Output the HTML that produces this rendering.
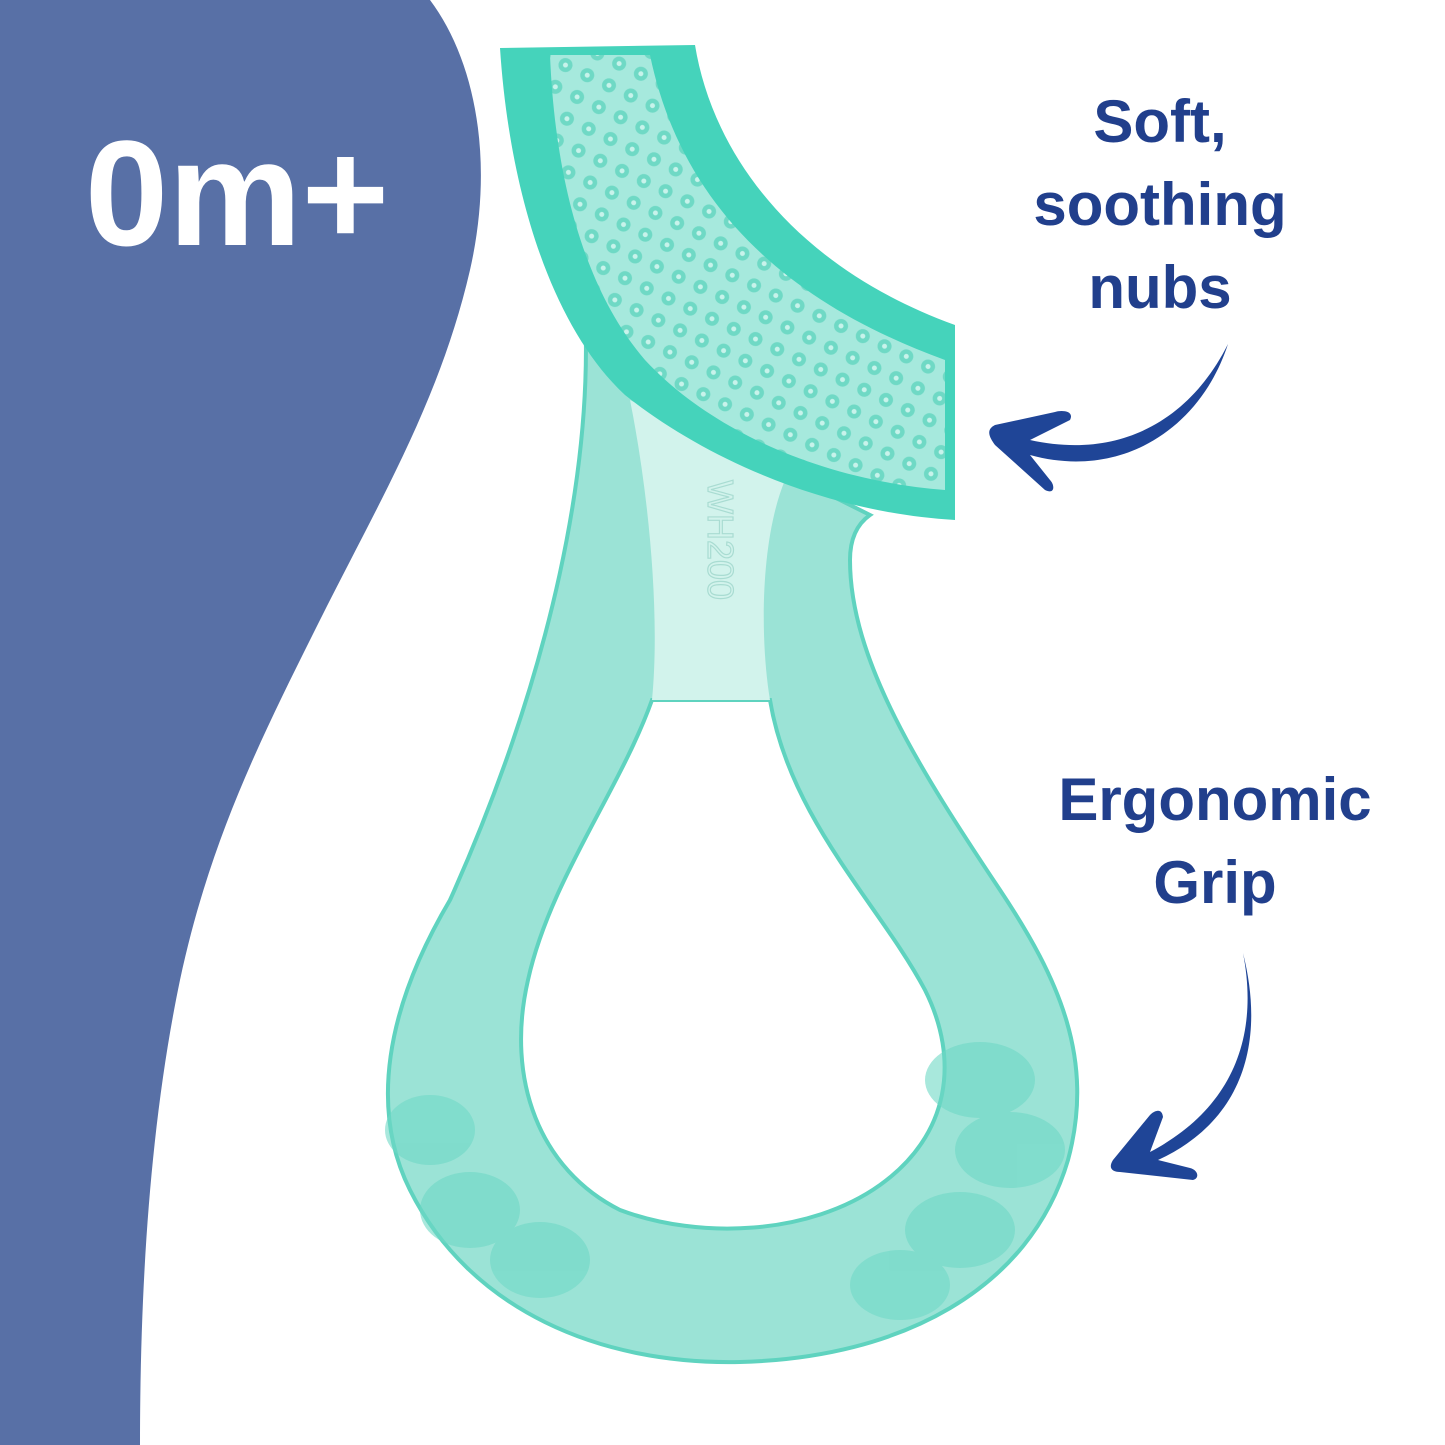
<!DOCTYPE html>
<html><head><meta charset="utf-8"><style>
html,body{margin:0;padding:0;background:#fff;}
svg{display:block;}
</style></head><body>
<svg width="1445" height="1445" viewBox="0 0 1445 1445" xmlns="http://www.w3.org/2000/svg">
<defs>
<pattern id="nubs" width="24" height="24" patternUnits="userSpaceOnUse" patternTransform="rotate(25)">
<rect width="24" height="24" fill="#a6e9dd"/>
<circle cx="12" cy="12" r="7" fill="#6fd9c5"/>
<circle cx="12" cy="12" r="2.5" fill="#c8f3eb"/>
</pattern>
</defs>
<rect width="1445" height="1445" fill="#fff"/>
<path d="M0,0 L430,0 C475,60 495,160 470,270 C440,400 380,500 320,620 C260,740 210,840 180,980 C155,1100 140,1250 140,1445 L0,1445 Z" fill="#5870a6"/>
<text x="237" y="245" text-anchor="middle" font-family="Liberation Sans, sans-serif" font-weight="bold" font-size="150" fill="#fff">0m+</text>
<g font-family="Liberation Sans, sans-serif" font-weight="bold" font-size="60" fill="#213f8c" text-anchor="middle">
<text x="1160" y="142">Soft,</text>
<text x="1160" y="225">soothing</text>
<text x="1160" y="308">nubs</text>
<text x="1215" y="820">Ergonomic</text>
<text x="1215" y="903">Grip</text>
</g>
<!-- teether loop -->
<path fill-rule="evenodd" fill="#9be3d6" stroke="#5fd3bf" stroke-width="4" d="M578,240 C610,450 540,700 450,900 C385,1010 370,1110 410,1190 C470,1310 600,1365 740,1362 C900,1358 1030,1290 1068,1160 C1095,1060 1060,980 1000,890 C920,770 850,660 850,560 C850,535 860,522 870,515 L800,480 Z
M652,700 C620,790 550,880 528,980 C505,1080 540,1170 620,1210 C700,1240 810,1235 880,1185 C950,1135 960,1060 925,990 C880,905 790,820 770,700 Z"/>
<path d="M630,400 L785,480 C760,540 760,640 770,700 L652,700 C660,620 650,500 630,400 Z" fill="#d2f3ec"/>
<text transform="translate(708,480) rotate(90)" font-family="Liberation Sans, sans-serif" font-size="36" fill="none" stroke="#a9dcd2" stroke-width="1.2">WH200</text>
<!-- grip bumps -->
<g fill="#6fd9c6" opacity="0.6">
<ellipse cx="430" cy="1130" rx="45" ry="35"/><ellipse cx="470" cy="1210" rx="50" ry="38"/><ellipse cx="540" cy="1260" rx="50" ry="38"/>
<ellipse cx="980" cy="1080" rx="55" ry="38"/><ellipse cx="1010" cy="1150" rx="55" ry="38"/><ellipse cx="960" cy="1230" rx="55" ry="38"/><ellipse cx="900" cy="1285" rx="50" ry="35"/>
</g>
<!-- head -->
<path d="M500,48 L695,45 C712,150 790,265 955,325 L955,520 C820,512 700,455 625,395 C555,330 510,200 500,48 Z" fill="#45d3bb"/>
<path d="M550,55 L650,55 C680,200 780,300 945,360 L945,490 C820,480 710,430 645,360 C585,290 555,180 550,55 Z" fill="url(#nubs)"/>
<!-- arrows -->
<g fill="#1f4597">
<path d="M1228,344 C1190,420 1120,460 1030,440 L1070,420 C1075,410 1060,410 1055,412 L995,425 C985,430 990,438 995,445 L1045,490 C1055,495 1055,485 1050,480 L1030,455 C1120,480 1200,430 1228,344 Z"/>
<path d="M1243,953 C1260,1040 1230,1110 1150,1152 L1163,1117 C1162,1108 1155,1110 1150,1115 L1113,1160 C1108,1168 1112,1172 1120,1172 L1193,1180 C1200,1178 1198,1170 1190,1168 L1158,1160 C1245,1120 1265,1040 1243,953 Z"/>
</g>
</svg>
</body></html>
